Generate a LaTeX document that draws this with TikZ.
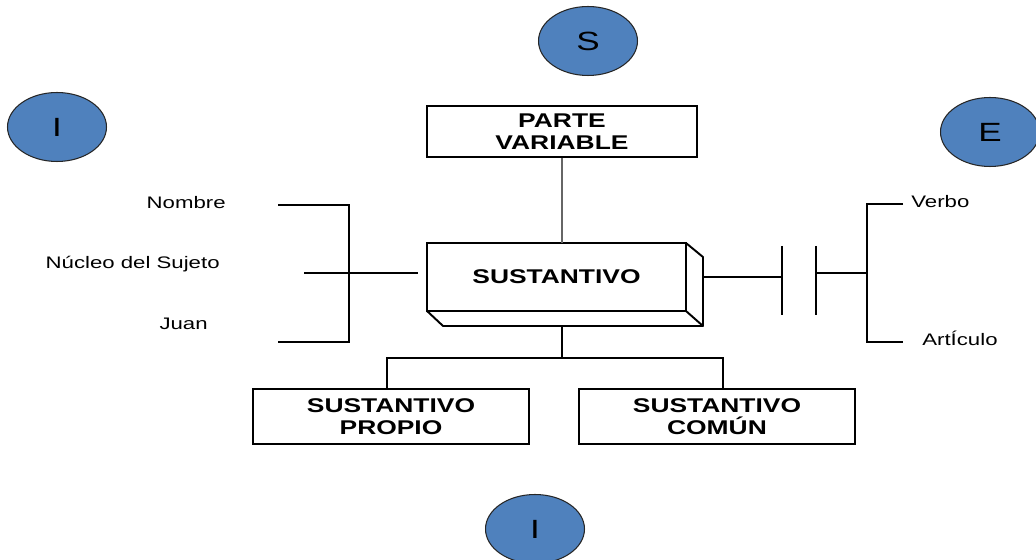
\documentclass[tikz,border=0pt]{standalone}
\usepackage{fontspec}
\setmainfont{Liberation Sans}
\newfontfamily\widefont[FakeStretch=1.33]{Liberation Sans}
\usetikzlibrary{shapes.geometric,calc}
\definecolor{ovalblue}{RGB}{79,129,189}
\tikzset{
  oval/.style={ellipse, draw=black!85, line width=0.6pt, fill=ovalblue, minimum width=1.98cm, minimum height=1.38cm, inner sep=0pt, font=\widefont\fontsize{15}{16}\selectfont},
  flatbox/.style={draw=black, line width=1.1pt, rectangle, minimum width=5.52cm, minimum height=1.1cm, inner sep=0pt, align=center, font=\widefont\bfseries\fontsize{11.3}{12.3}\selectfont},
  mainbox/.style={draw=black, line width=1.1pt, rectangle, minimum width=5.18cm, minimum height=1.36cm, inner sep=0pt, outer sep=0pt, font=\widefont\bfseries\fontsize{11.3}{12.3}\selectfont},
  lbl/.style={inner sep=0pt, font=\widefont\fontsize{9.5}{11}\selectfont},
  bline/.style={line width=1.1pt, black},
}
\begin{document}
\begin{tikzpicture}[x=0.02cm, y=-0.02cm]
\useasboundingbox (0,0) rectangle (1036,560);
% ovals
\node[oval] (os) at (588,41) {S};
\node[oval] (oi1) at (57,127) {I};
\node[oval] (oe) at (990,132) {E};
\node[oval] (oi2) at (535,529) {I};
% boxes
\node[flatbox, minimum width=5.4cm, minimum height=1.02cm] (pv) at (562,131.5) {PARTE\\VARIABLE};
\node[mainbox] (sus) at (556.5,277) {SUSTANTIVO};
\node[flatbox] (prop) at (391,416.5) {SUSTANTIVO\\PROPIO};
\node[flatbox] (com) at (717,416.5) {SUSTANTIVO\\COMÚN};
% 3D sides of main box
\coordinate (bne) at ($(sus.north east)+(17,14)$);
\coordinate (bse) at ($(sus.south east)+(17,15)$);
\coordinate (bsw) at ($(sus.south west)+(16,15)$);
\draw[line width=1.1pt, line join=round] (sus.north east) -- (bne) -- (bse) -- (sus.south east);
\draw[line width=1.1pt, line join=round] (sus.south west) -- (bsw) -- (bse);
% connector to parte variable
\draw[line width=0.8pt, black!60] (pv.south) -- (pv.south |- sus.north);
% connector to bottom boxes
\coordinate (sb) at (pv.south |- bsw);
\coordinate (pn) at ([xshift=-0.08cm]prop.north);
\coordinate (cn) at ([xshift=0.12cm]com.north);
\draw[line width=0.9pt] (sb) -- ++(0,32) coordinate (hj);
\draw[line width=0.9pt] (pn) |- (hj) -| (cn);
% left labels
\node[lbl, anchor=east] (lnom) at (226,203) {Nombre};
\node[lbl, anchor=east] (lnuc) at (220,264) {Núcleo del Sujeto};
\node[lbl, anchor=east] (ljua) at (208,324) {Juan};
% left bracket
\coordinate (lt1) at (278,205);
\coordinate (lt2) at (349,205);
\coordinate (lb1) at (278,342);
\coordinate (lb2) at (349,342);
\coordinate (lm1) at (304,273);
\coordinate (lm2) at ($(sus.west |- lm1)+(-9,0)$);
\draw[bline] (lt1) -- (lt2) -- (lb2) -- (lb1);
\draw[bline] (lm1) -- (lm2);
% right side
\coordinate (r0) at (bne |- 0,277);
\coordinate (r1) at (782,277);
\coordinate (c1t) at (782,246);
\coordinate (c1b) at (782,315);
\coordinate (c2t) at (816,246);
\coordinate (c2b) at (816,315);
\coordinate (r2) at (816,273);
\coordinate (r3) at (867,273);
\coordinate (rt) at (867,204);
\coordinate (rb) at (867,342);
\coordinate (rt2) at (903,204);
\coordinate (rb2) at (903,342);
\draw[bline] (r0) -- (r1);
\draw[bline] (c1t) -- (c1b);
\draw[bline] (c2t) -- (c2b);
\draw[bline] (r2) -- (r3);
\draw[bline] (rt2) -- (rt) -- (rb) -- (rb2);
\node[lbl, anchor=west] (lver) at (911,202) {Verbo};
\node[lbl, anchor=west] (lart) at (922,338) {ArtÍculo};
\end{tikzpicture}
\end{document}
